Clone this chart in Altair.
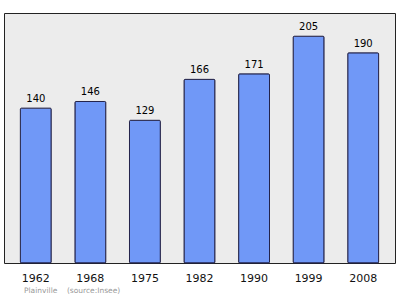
import altair as alt
import pandas as pd

years = ["1962", "1968", "1975", "1982", "1990", "1999", "2008"]
population = [140, 146, 129, 166, 171, 205, 190]
caption = "Plainville\u00a0\u00a0\u00a0\u00a0(source:Insee)"

df = pd.DataFrame({"year": years, "pop": population})

x = alt.X("year:O", sort=years,
          scale=alt.Scale(paddingInner=0.434, paddingOuter=0.3),
          axis=alt.Axis(title=None, labelAngle=0, ticks=False, domain=False,
                        labelFontSize=11, labelFont="DejaVu Sans", labelColor="#111",
                        labelPadding=9))
y = alt.Y("pop:Q", scale=alt.Scale(domain=[0, 226], nice=False, zero=True),
          axis=None)

bars = alt.Chart(df).mark_bar(color="#7098f7", stroke="#23234a", strokeWidth=1,
                              cornerRadius=1).encode(x=x, y=y)
labels = alt.Chart(df).mark_text(dy=-9, fontSize=10, font="DejaVu Sans",
                                 color="#000").encode(x=x, y=y, text="pop:Q")

chart = (bars + labels).properties(
    width=391, height=250,
    autosize=alt.AutoSizeParams(type="none"),
    padding={"left": 4, "top": 13, "right": 5, "bottom": 36},
    background="white",
    title=alt.TitleParams(caption, orient="bottom", anchor="start", fontSize=7.5,
                          font="DejaVu Sans", fontWeight="normal", color="#999999",
                          dx=20, offset=4),
).configure_view(fill="#ececec", stroke="#222222", strokeWidth=1)

chart.save("out.html", embed_options={"renderer": "svg", "actions": False})
